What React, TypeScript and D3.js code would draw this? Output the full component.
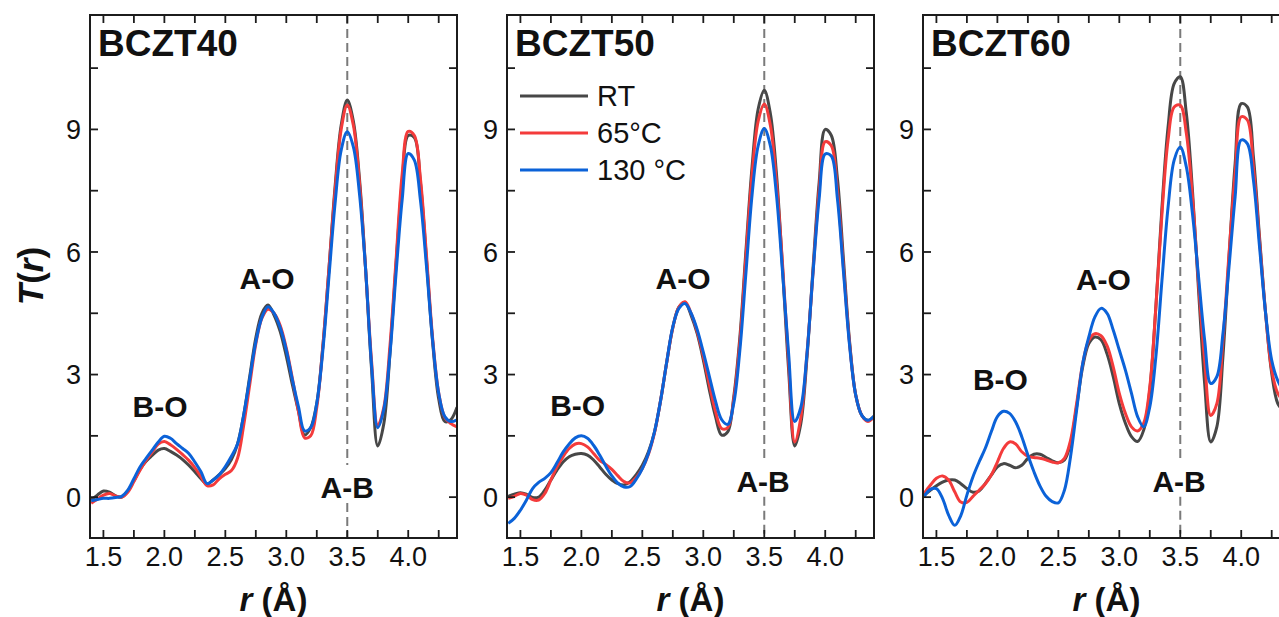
import React from "react";
import * as d3 from "d3";

// ---------- data ----------
const R_GRID = [
  1.40, 1.45, 1.50, 1.55, 1.60, 1.65, 1.70, 1.75, 1.80, 1.85, 1.90, 1.95,
  2.00, 2.05, 2.10, 2.15, 2.20, 2.25, 2.30, 2.35, 2.40, 2.45, 2.50, 2.55,
  2.60, 2.65, 2.70, 2.75, 2.80, 2.85, 2.90, 2.95, 3.00, 3.05, 3.10, 3.15,
  3.20, 3.25, 3.30, 3.35, 3.40, 3.45, 3.50, 3.55, 3.60, 3.65, 3.70, 3.75,
  3.80, 3.85, 3.90, 3.95, 4.00, 4.05, 4.10, 4.15, 4.20, 4.25, 4.30, 4.35,
  4.40,
];

const X_DOMAIN = [1.39, 4.4];
const Y_DOMAIN = [-1, 11.8];
const X_TICKS = [1.5, 2.0, 2.5, 3.0, 3.5, 4.0];
const X_MINOR = [1.75, 2.25, 2.75, 3.25, 3.75, 4.25];
const Y_TICKS = [0, 3, 6, 9];
const Y_MINOR = [1.5, 4.5, 7.5, 10.5];
const REF_LINE_R = 3.5;

const PANEL_TITLES = ["BCZT40", "BCZT50", "BCZT60"];
const LEGEND_LABELS = ["RT", "65°C", "130 °C"];
const ANNOT_LABELS = ["B-O", "A-O", "A-B"];

const BCZT40_RT = [
  -0.07, 0.05, 0.15, 0.12, 0.03, 0.0, 0.15, 0.4, 0.68, 0.88, 1.02, 1.15,
  1.19, 1.12, 1.03, 0.92, 0.78, 0.62, 0.45, 0.32, 0.42, 0.55, 0.7, 0.92,
  1.3, 2.0, 2.95, 3.9, 4.5, 4.7, 4.45, 4.05, 3.45, 2.75, 2.1, 1.52,
  1.7, 2.3, 3.7, 5.6, 7.6, 9.1, 9.72, 9.2, 7.8, 5.6, 3.1, 1.25,
  1.8, 3.5, 5.7, 7.7, 8.85, 8.8, 7.7, 5.8, 3.8, 2.4, 1.85, 1.9,
  2.2,
];
const BCZT40_65C = [
  -0.15, -0.05, 0.05, 0.09, 0.03, 0.0, 0.12, 0.38, 0.66, 0.9, 1.1, 1.3,
  1.36, 1.28, 1.17, 1.04, 0.9, 0.72, 0.5, 0.28, 0.3, 0.45, 0.56, 0.65,
  0.95, 1.75, 2.75, 3.75, 4.38, 4.6, 4.5, 4.2, 3.65, 2.9, 2.1, 1.45,
  1.5, 2.2, 3.7, 5.6, 7.5, 9.0, 9.6, 9.1, 7.7, 5.6, 3.3, 1.75,
  2.2, 3.7, 5.8, 7.9, 8.95, 8.85, 7.8, 5.9, 3.9, 2.55, 1.95, 1.8,
  1.72,
];
const BCZT40_130C = [
  -0.09, -0.06, -0.03, -0.03, -0.01, 0.02, 0.17, 0.45, 0.74, 0.95, 1.15, 1.35,
  1.49, 1.44, 1.31, 1.19, 1.07, 0.86, 0.62, 0.33, 0.42, 0.55, 0.75, 1.0,
  1.3, 2.0, 2.9, 3.8, 4.4, 4.66, 4.5, 4.15, 3.6, 2.87, 2.21, 1.62,
  1.7, 2.3, 3.6, 5.4, 7.19, 8.49, 8.94, 8.57, 7.43, 5.6, 3.2, 1.7,
  2.15, 3.5, 5.47, 7.27, 8.41, 8.25, 7.27, 5.64, 3.84, 2.54, 1.97, 1.85,
  1.89,
];

const BCZT50_RT = [
  0.02, 0.07, 0.11, 0.07, -0.01, 0.0, 0.17, 0.42, 0.66, 0.86, 0.99, 1.05,
  1.07, 1.03, 0.91, 0.74, 0.56, 0.42, 0.33, 0.3, 0.38, 0.55, 0.78, 1.11,
  1.6, 2.37, 3.3, 4.15, 4.65, 4.76, 4.45, 4.0, 3.36, 2.62, 1.97, 1.52,
  1.6, 2.46, 3.92, 6.05, 8.09, 9.5, 9.96, 9.39, 7.92, 5.6, 3.1, 1.25,
  1.8, 3.4, 5.6, 7.7, 9.0, 8.85, 7.8, 5.8, 3.8, 2.5, 2.0, 1.88,
  1.98,
];
const BCZT50_65C = [
  -0.03, 0.02, 0.09, 0.05, -0.06, -0.07, 0.09, 0.42, 0.74, 0.99, 1.19, 1.3,
  1.31, 1.23, 1.07, 0.9, 0.8, 0.68, 0.52, 0.38, 0.35, 0.48, 0.7, 1.05,
  1.58, 2.37, 3.3, 4.15, 4.65, 4.78, 4.5, 4.05, 3.45, 2.75, 2.1, 1.68,
  1.7, 2.4, 3.8, 5.9, 7.9, 9.2, 9.62, 9.1, 7.7, 5.7, 3.3, 1.35,
  1.95, 3.5, 5.5, 7.5, 8.7, 8.6, 7.5, 5.6, 3.75, 2.5, 2.0, 1.85,
  1.97,
];
const BCZT50_130C = [
  -0.64, -0.52, -0.32, -0.07, 0.21, 0.36, 0.46, 0.6, 0.84, 1.1, 1.3, 1.45,
  1.5, 1.44, 1.27, 1.03, 0.76, 0.52, 0.34, 0.25, 0.26, 0.44, 0.7, 1.07,
  1.6, 2.37, 3.31, 4.17, 4.62, 4.74, 4.5, 4.1, 3.55, 2.95, 2.35, 1.9,
  1.78, 2.3, 3.6, 5.5, 7.4, 8.6, 9.02, 8.6, 7.4, 5.5, 3.5, 1.85,
  2.2, 3.5, 5.5, 7.3, 8.4, 8.35, 7.3, 5.5, 3.7, 2.5, 2.0, 1.88,
  1.98,
];

const BCZT60_RT = [
  0.05, 0.17, 0.28, 0.37, 0.42, 0.42, 0.33, 0.21, 0.12, 0.15, 0.33, 0.54,
  0.74, 0.82, 0.78, 0.72, 0.78, 0.95, 1.05, 1.05, 0.97, 0.89, 0.84, 0.91,
  1.31, 2.21, 3.19, 3.76, 3.92, 3.85, 3.5, 2.95, 2.29, 1.81, 1.48, 1.36,
  1.64, 2.62, 4.66, 7.1, 9.06, 10.12, 10.29, 9.39, 7.51, 5.06, 2.78, 1.35,
  1.72, 3.44, 5.88, 8.16, 9.63, 9.55, 8.33, 6.37, 4.5, 3.03, 2.29, 2.1,
  2.0,
];
const BCZT60_65C = [
  0.09, 0.29, 0.46, 0.52, 0.42, 0.13, -0.12, -0.13, 0.02, 0.17, 0.32, 0.54,
  0.86, 1.19, 1.35, 1.3, 1.11, 1.0, 0.97, 0.95, 0.91, 0.86, 0.84, 0.95,
  1.39, 2.29, 3.27, 3.84, 4.0, 3.95, 3.7, 3.19, 2.54, 2.05, 1.72, 1.62,
  1.81, 2.7, 4.66, 6.94, 8.74, 9.55, 9.59, 8.9, 7.35, 5.23, 3.35, 2.0,
  2.29, 3.84, 5.96, 7.92, 9.31, 9.23, 8.08, 6.29, 4.5, 3.11, 2.54, 2.35,
  2.25,
];
const BCZT60_130C = [
  0.02, 0.19, 0.21, -0.03, -0.44, -0.69, -0.45, 0.05, 0.5, 0.86, 1.19, 1.6,
  1.97, 2.1, 2.05, 1.84, 1.48, 1.03, 0.62, 0.27, 0.02, -0.11, -0.14, 0.17,
  0.99, 2.13, 3.27, 3.92, 4.41, 4.62, 4.5, 4.09, 3.6, 3.11, 2.54, 1.97,
  1.72, 2.21, 3.44, 5.31, 7.1, 8.25, 8.57, 8.08, 6.94, 5.39, 3.84, 2.78,
  2.95, 4.0, 5.64, 7.35, 8.74, 8.65, 7.76, 6.13, 4.5, 3.35, 2.85, 2.6,
  2.5,
];

// annotation anchor points [r, T] for B-O, A-O, A-B
const BCZT40_ANNOT = [[1.964, 1.96], [2.842, 5.09], [3.5, -0.02]];
const BCZT50_ANNOT = [[1.97, 1.98], [2.834, 5.09], [3.49, 0.13]];
const BCZT60_ANNOT = [[2.025, 2.62], [2.87, 5.07], [3.49, 0.13]];

// ---------- styles ----------
const COLORS = ["#474747", "#f43b3b", "#0b62d8"];
const FONT = "'Liberation Sans', Arial, Helvetica, sans-serif";
const W = 1279;
const H = 617;
const PLOT_TOP = 15;
const PLOT_BOTTOM = 538;
const PLOT_W = 367;
const PANEL_LEFTS = [90, 507, 923];
const TICK_LEN = 8;

const PANELS = [
  { title: PANEL_TITLES[0], series: [BCZT40_RT, BCZT40_65C, BCZT40_130C], annot: BCZT40_ANNOT },
  { title: PANEL_TITLES[1], series: [BCZT50_RT, BCZT50_65C, BCZT50_130C], annot: BCZT50_ANNOT },
  { title: PANEL_TITLES[2], series: [BCZT60_RT, BCZT60_65C, BCZT60_130C], annot: BCZT60_ANNOT },
];

function Panel({ idx, left, panel }: any) {
  const right = left + PLOT_W;
  const x = d3.scaleLinear().domain(X_DOMAIN).range([left, right]);
  const y = d3.scaleLinear().domain(Y_DOMAIN).range([PLOT_BOTTOM, PLOT_TOP]);
  const line = d3
    .line<number>()
    .x((_, i) => x(R_GRID[i]))
    .y((d) => y(d))
    .curve(d3.curveCatmullRom.alpha(0.5));

  const abBase = y(panel.annot[2][1]);
  const xr = x(REF_LINE_R);
  const clipId = `clip-${idx}`;
  const frame = "#1c1c1c";

  const xTickAll = [...X_TICKS, ...X_MINOR];
  const yTickAll = [...Y_TICKS, ...Y_MINOR];

  return (
    <g>
      <defs>
        <clipPath id={clipId}>
          <rect x={left} y={PLOT_TOP} width={PLOT_W} height={PLOT_BOTTOM - PLOT_TOP} />
        </clipPath>
      </defs>

      {/* reference dashed line with gap for A-B label */}
      <g stroke="#7a7a7a" strokeWidth={2} strokeDasharray="9,5">
        <line x1={xr} x2={xr} y1={PLOT_TOP} y2={abBase - 33} />
        <line x1={xr} x2={xr} y1={abBase + 5} y2={PLOT_BOTTOM} />
      </g>

      <g clipPath={`url(#${clipId})`}>
        {panel.series.map((s: number[], i: number) => (
          <path key={i} d={line(s) || ""} fill="none" stroke={COLORS[i]} strokeWidth={3} strokeLinejoin="round" />
        ))}
      </g>

      {/* frame */}
      <rect x={left} y={PLOT_TOP} width={PLOT_W} height={PLOT_BOTTOM - PLOT_TOP} fill="none" stroke={frame} strokeWidth={2} />

      {/* ticks */}
      <g stroke={frame} strokeWidth={1.8}>
        {xTickAll.map((t) => (
          <g key={"x" + t}>
            <line x1={x(t)} x2={x(t)} y1={PLOT_BOTTOM} y2={PLOT_BOTTOM - TICK_LEN} />
            <line x1={x(t)} x2={x(t)} y1={PLOT_TOP} y2={PLOT_TOP + TICK_LEN} />
          </g>
        ))}
        {yTickAll.map((t) => (
          <g key={"y" + t}>
            <line x1={left} x2={left + TICK_LEN} y1={y(t)} y2={y(t)} />
            <line x1={right} x2={right - TICK_LEN} y1={y(t)} y2={y(t)} />
          </g>
        ))}
      </g>

      {/* tick labels */}
      <g fontFamily={FONT} fontSize={27} fill="#111">
        {X_TICKS.map((t) => (
          <text key={"xl" + t} x={x(t)} y={PLOT_BOTTOM + 28} textAnchor="middle">
            {t.toFixed(1)}
          </text>
        ))}
        {Y_TICKS.map((t) => (
          <text key={"yl" + t} x={left - 9} y={y(t)} dy="0.36em" textAnchor="end">
            {t}
          </text>
        ))}
      </g>

      {/* x axis title */}
      <text x={(left + right) / 2} y={611} textAnchor="middle" fontFamily={FONT} fontWeight="bold" fontSize={33} fill="#111">
        <tspan fontStyle="italic">r</tspan> (Å)
      </text>

      {/* panel title */}
      <text x={left + 8} y={56} fontFamily={FONT} fontWeight="bold" fontSize={37} fill="#111">
        {panel.title}
      </text>

      {/* annotations */}
      <g fontFamily={FONT} fontWeight="bold" fontSize={30} fill="#111" textAnchor="middle">
        {panel.annot.map((a: number[], i: number) => (
          <text key={i} x={x(a[0])} y={y(a[1])}>
            {ANNOT_LABELS[i]}
          </text>
        ))}
      </g>

      {idx === 1 && (
        <g>
          {LEGEND_LABELS.map((lab, i) => {
            const ly = 96 + i * 37;
            return (
              <g key={lab}>
                <line x1={left + 13} x2={left + 81} y1={ly} y2={ly} stroke={COLORS[i]} strokeWidth={3} />
                <text x={left + 90} y={ly} dy="0.36em" fontFamily={FONT} fontSize={29} fill="#111">
                  {lab}
                </text>
              </g>
            );
          })}
        </g>
      )}
    </g>
  );
}

export default function App() {
  return (
    <svg
      width={W}
      height={H}
      viewBox={`0 0 ${W} ${H}`}
      style={{ position: "absolute", left: 0, top: 0, background: "#fff", overflow: "hidden" }}
    >
      <rect x={0} y={0} width={W} height={H} fill="#fff" />
      {PANELS.map((p, i) => (
        <Panel key={i} idx={i} left={PANEL_LEFTS[i]} panel={p} />
      ))}
      <text
        transform="translate(43,276) rotate(-90)"
        textAnchor="middle"
        fontFamily={FONT}
        fontWeight="bold"
        fontSize={35}
        fill="#111"
      >
        <tspan fontStyle="italic">T</tspan>(<tspan fontStyle="italic">r</tspan>)
      </text>
    </svg>
  );
}
